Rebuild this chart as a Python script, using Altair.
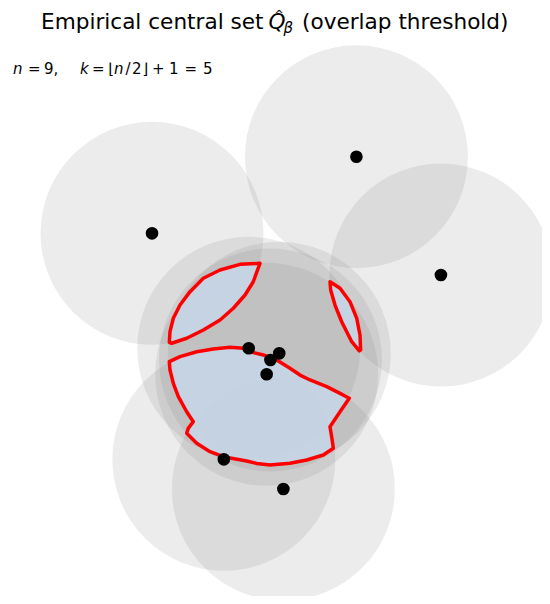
import altair as alt
import pandas as pd

# ---- data (units: circle radius = 1) ----
pt_x = [-1.058, 0.775, 1.533, -0.191, 0.083, 0.004, -0.030, -0.414, 0.120]
pt_y = [1.136, 1.823, 0.762, 0.105, 0.060, 0.000, -0.128, -0.891, -1.157]
radius = 1.0

# central-set outline (k = 5 overlap level), three pieces
polyA_x = [-0.090, -0.269, -0.448, -0.598, -0.717, -0.807, -0.867, -0.897, -0.903, -0.882,
           -0.747, -0.598, -0.448, -0.329, -0.224, -0.150, -0.090]
polyA_y = [0.867, 0.858, 0.807, 0.733, 0.613, 0.493, 0.374, 0.254, 0.159, 0.150,
           0.195, 0.269, 0.359, 0.464, 0.583, 0.702, 0.867]
polyB_x = [0.538, 0.628, 0.717, 0.778, 0.807, 0.813, 0.801, 0.733, 0.643, 0.583, 0.544, 0.538]
polyB_y = [0.702, 0.643, 0.523, 0.374, 0.224, 0.090, 0.081, 0.164, 0.343, 0.493, 0.628, 0.702]
polyC_x = [-0.903, -0.807, -0.657, -0.509, -0.359, -0.239, -0.179, -0.060, 0.060, 0.179,
           0.269, 0.359, 0.509, 0.628, 0.711, 0.628, 0.538, 0.553, 0.568, 0.478,
           0.329, 0.179, 0.000, -0.119, -0.209, -0.419, -0.538, -0.657, -0.747, -0.733,
           -0.688, -0.747, -0.822, -0.867, -0.897, -0.903]
polyC_y = [-0.015, 0.030, 0.074, 0.099, 0.114, 0.105, 0.074, 0.045, 0.000, -0.074,
           -0.135, -0.179, -0.239, -0.299, -0.343, -0.464, -0.598, -0.688, -0.792, -0.852,
           -0.897, -0.926, -0.942, -0.928, -0.906, -0.867, -0.822, -0.747, -0.657, -0.613,
           -0.553, -0.464, -0.329, -0.209, -0.090, -0.015]

# ---- layout ----
W, H = 534, 588
PX_PER_UNIT = 111.5
X0, Y0 = 262, 352  # pixel position of data origin inside plot
x_dom = [(0 - X0) / PX_PER_UNIT, (W - X0) / PX_PER_UNIT]
y_dom = [(Y0 - H) / PX_PER_UNIT, Y0 / PX_PER_UNIT]

xs = alt.Scale(domain=x_dom, nice=False, zero=False)
ys = alt.Scale(domain=y_dom, nice=False, zero=False)

pts = pd.DataFrame({"x": pt_x, "y": pt_y})

rows = []
for name, px, py in [("A", polyA_x, polyA_y), ("B", polyB_x, polyB_y), ("C", polyC_x, polyC_y)]:
    for i, (a, b) in enumerate(zip(px, py)):
        rows.append({"poly": name, "i": i, "x": a, "y": b})
poly = pd.DataFrame(rows)

# Vega symbol size = area of bounding square -> (2r)^2
circle_size = (2 * radius * PX_PER_UNIT) ** 2

circles = alt.Chart(pts).mark_circle(color="#808080", opacity=0.15, size=circle_size).encode(
    x=alt.X("x:Q", scale=xs, axis=None),
    y=alt.Y("y:Q", scale=ys, axis=None),
)

region = alt.Chart(poly).mark_line(
    fill="#c8d8ea", fillOpacity=0.85, stroke="red", strokeWidth=3.5,
    strokeJoin="round", strokeCap="round"
).encode(
    x=alt.X("x:Q", scale=xs, axis=None),
    y=alt.Y("y:Q", scale=ys, axis=None),
    order="i:Q",
    detail="poly:N",
)

dots = alt.Chart(pts).mark_circle(color="black", opacity=1, size=160).encode(
    x=alt.X("x:Q", scale=xs, axis=None),
    y=alt.Y("y:Q", scale=ys, axis=None),
)

FONT = "DejaVu Sans"


def txt(s, x, y, size, italic=False, align="left"):
    # x, y given in page pixels; plot origin sits at page (8, 8)
    return alt.Chart(pd.DataFrame({"t": [s]})).mark_text(
        font=FONT, fontSize=size, fontStyle="italic" if italic else "normal",
        align=align, baseline="alphabetic", color="black"
    ).encode(x=alt.value(x - 8), y=alt.value(y - 8), text="t:N")


TS = 21.6
SS = 15
TB = 28.5  # title baseline (page px)
texts = [
    txt("Empirical central set", 41, TB, TS),
    txt("Q", 268.5, TB, TS, italic=True),
    txt("^", 279, 18, 11, align="center"),
    txt("\u03b2", 283.5, TB + 4, 15, italic=True),
    txt("(overlap threshold)", 302, TB, TS),
    # subtitle
    txt("n", 13, 74, SS, italic=True),
    txt("=", 28, 74, SS),
    txt("9,", 44, 74, SS),
    txt("k", 80, 74, SS, italic=True),
    txt("=", 92, 74, SS),
    txt("\u230a", 108.5, 74, SS),
    txt("n", 114, 74, SS, italic=True),
    txt("/", 125.5, 74, SS),
    txt("2", 132, 74, SS),
    txt("\u230b", 142.5, 74, SS),
    txt("+", 152, 74, SS),
    txt("1", 169, 74, SS),
    txt("=", 184.5, 74, SS),
    txt("5", 203, 74, SS),
]

chart = alt.layer(circles, region, dots, *texts).properties(
    width=W, height=H, padding=0,
    autosize=alt.AutoSizeParams(type="none"),
).configure_view(stroke=None)

chart.save("out.html", embed_options={"renderer": "svg", "actions": False})
